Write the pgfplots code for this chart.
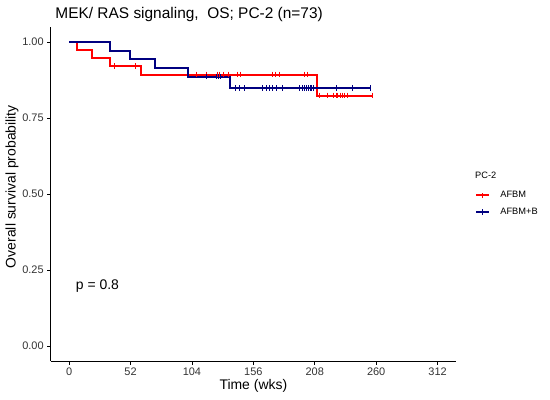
\documentclass[border=0pt]{standalone}
\usepackage{fontspec}
\setmainfont{Liberation Sans}
\usepackage{pgfplots}
\pgfplotsset{compat=1.18}
\definecolor{kmred}{HTML}{FF0000}
\definecolor{kmblue}{HTML}{000080}
\begin{document}
\begin{tikzpicture}
\path[use as bounding box] (-50.7bp,-38.8bp) rectangle (499.3bp,361.2bp);
\begin{axis}[
  at={(0,0)}, anchor=south west,
  scale only axis, width=405.3bp, height=334.4bp,
  xmin=-15.6, xmax=327.6, ymin=-0.05, ymax=1.05,
  axis x line*=bottom, axis y line*=left,
  axis line style={-, line width=0.8bp, black},
  xtick={0,52,104,156,208,260,312},
  ytick={0,0.25,0.5,0.75,1},
  tick align=outside, major tick length=3.5bp,
  tick style={black, line width=0.8bp},
  /pgf/number format/assume math mode=true,
  yticklabel style={/pgf/number format/.cd, fixed, fixed zerofill, precision=2},
  ticklabel style={font=\fontsize{11}{13}\selectfont, text=black!80},
  xlabel={Time (wks)}, ylabel={Overall survival probability},
  label style={font=\fontsize{14}{16}\selectfont},
  xlabel style={at={(axis description cs:0.5,-0.0748)}, anchor=center},
  ylabel style={at={(axis description cs:-0.0955,0.522)}, anchor=center},
  title={MEK/ RAS signaling,\ \ OS; PC-2 (n=73)},
  title style={at={(axis description cs:0.003,1)}, anchor=base west, yshift=2.5bp, font=\fontsize{15.5}{17}\selectfont},
  legend style={at={(axis description cs:1.040,0.52)}, anchor=north west, draw=none, fill=none,
    font=\fontsize{9.3}{11}\selectfont, row sep=4.5bp,
    /tikz/every odd column/.append style={column sep=8bp}},
  legend cell align=left,
  clip=false,
]
\addplot[kmred, line width=2bp, const plot,
  legend image code/.code={\draw[kmred, line width=2bp] (0,0) -- (13bp,0); \draw[kmred, line width=1bp] (6.5bp,-2.8bp) -- (6.5bp,2.8bp);}]
  coordinates {(0,1) (6.5,0.974) (19.6,0.947) (34.6,0.921) (61.2,0.893) (210,0.824) (256.5,0.824)};
\addlegendentry{AFBM}
\addplot[kmred, only marks, mark=|, mark size=2.8bp, mark options={line width=1bp}, forget plot]
  coordinates {(38.2,0.921) (55.9,0.921)
  (108,0.893) (116,0.893) (125.5,0.893) (127.5,0.893) (131,0.893) (135,0.893) (142.5,0.893) (145,0.893)
  (172.5,0.893) (175,0.893) (178,0.893) (199,0.893) (202,0.893)
  (212,0.824) (219,0.824) (224,0.824) (226,0.824) (227.5,0.824) (229.5,0.824) (231.5,0.824) (233.5,0.824) (235.5,0.824) (256.5,0.824)};
\addplot[kmblue, line width=2bp, const plot,
  legend image code/.code={\draw[kmblue, line width=2bp] (0,0) -- (13bp,0); \draw[kmblue, line width=1bp] (6.5bp,-2.8bp) -- (6.5bp,2.8bp);}]
  coordinates {(0,1) (34.6,0.971) (51.2,0.943) (73.1,0.914) (100.3,0.886) (136.5,0.849) (255,0.849)};
\addlegendentry{AFBM+B}
\addplot[kmblue, only marks, mark=|, mark size=2.8bp, mark options={line width=1bp}, forget plot]
  coordinates {(116,0.886) (125,0.886) (126.5,0.886) (128,0.886)
  (140.5,0.849) (144.5,0.849) (148.5,0.849) (164,0.849) (167,0.849) (170,0.849) (172.5,0.849) (175.5,0.849) (181,0.849)
  (195,0.849) (197.5,0.849) (199.5,0.849) (201,0.849) (202.5,0.849) (204,0.849) (205.5,0.849) (207,0.849)
  (226,0.849) (240,0.849) (255,0.849)};
\node[anchor=west, inner sep=0pt, font=\fontsize{14}{16}\selectfont] at (axis cs:5.6,0.197) {p = 0.8};
\node[anchor=west, inner sep=0pt, font=\fontsize{9.3}{11}\selectfont] at (rel axis cs:1.0469,0.5568) {PC-2};
\end{axis}
\end{tikzpicture}
\end{document}
